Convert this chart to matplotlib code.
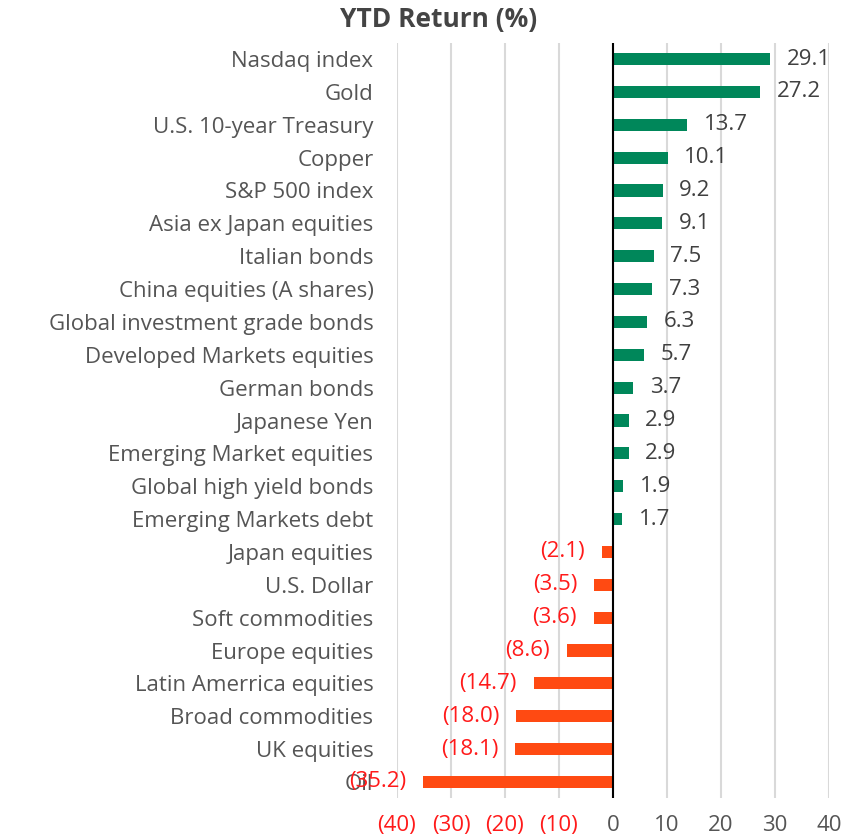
import matplotlib
matplotlib.use("Agg")
import matplotlib.pyplot as plt

categories = ["Nasdaq index", "Gold", "U.S. 10-year Treasury", "Copper", "S&P 500 index",
              "Asia ex Japan equities", "Italian bonds", "China equities (A shares)",
              "Global investment grade bonds", "Developed Markets equities", "German bonds",
              "Japanese Yen", "Emerging Market equities", "Global high yield bonds",
              "Emerging Markets debt", "Japan equities", "U.S. Dollar", "Soft commodities",
              "Europe equities", "Latin Amerrica equities", "Broad commodities", "UK equities", "Oil"]
values = [29.1, 27.2, 13.7, 10.1, 9.2, 9.1, 7.5, 7.3, 6.3, 5.7, 3.7, 2.9, 2.9, 1.9, 1.7,
          -2.1, -3.5, -3.6, -8.6, -14.7, -18.0, -18.1, -35.2]
xticks = [-40, -30, -20, -10, 0, 10, 20, 30, 40]

plt.rcParams['font.family'] = ['Open Sans', 'DejaVu Sans']
GREEN = "#00875A"
ORANGE = "#FF4A12"
RED = "#FF1A1A"
GRAY = "#555555"
FS = 16

fig = plt.figure(figsize=(8.54, 8.38), dpi=100)
W, H = 854, 838
left, right = 397, 829
top, bottom = 42.6, 798.4
ax = fig.add_axes([left / W, 1 - bottom / H, (right - left) / W, (bottom - top) / H])

ypos = list(range(len(categories)))
colors = [GREEN if v >= 0 else ORANGE for v in values]
ax.barh(ypos, values, height=0.37, color=colors, zorder=3)
ax.set_ylim(len(categories) - 0.5, -0.5)
ax.set_xlim(-40, 40)

ax.set_xticks(xticks)
ax.set_xticklabels([f"({abs(t)})" if t < 0 else f"{t}" for t in xticks], fontsize=FS)
for lbl, t in zip(ax.get_xticklabels(), xticks):
    lbl.set_color(RED if t < 0 else GRAY)
ax.tick_params(axis='x', length=0, pad=12)
ax.set_yticks(ypos)
ax.set_yticklabels(categories, fontsize=FS, color=GRAY)
ax.tick_params(axis='y', length=0, pad=17)

ax.grid(axis='x', color="#D9D9D9", linewidth=1.5, zorder=0)
for s in ax.spines.values():
    s.set_visible(False)
ax.axvline(0, color="black", linewidth=1.5, zorder=4)

for y, v in zip(ypos, values):
    if v >= 0:
        ax.annotate(f"{v:.1f}", (v, y), xytext=(12, 0), textcoords="offset points",
                    ha="left", va="center", fontsize=FS, color="#404040", zorder=5)
    else:
        ax.annotate(f"({abs(v):.1f})", (v, y), xytext=(-12, 0), textcoords="offset points",
                    ha="right", va="center", fontsize=FS, color=RED, zorder=5)

fig.text(439 / W, 1 - 19 / H, "YTD Return (%)", ha="center", va="center",
         fontsize=19, fontweight="bold", color="#444444")

fig.savefig("out.png", dpi=100)
